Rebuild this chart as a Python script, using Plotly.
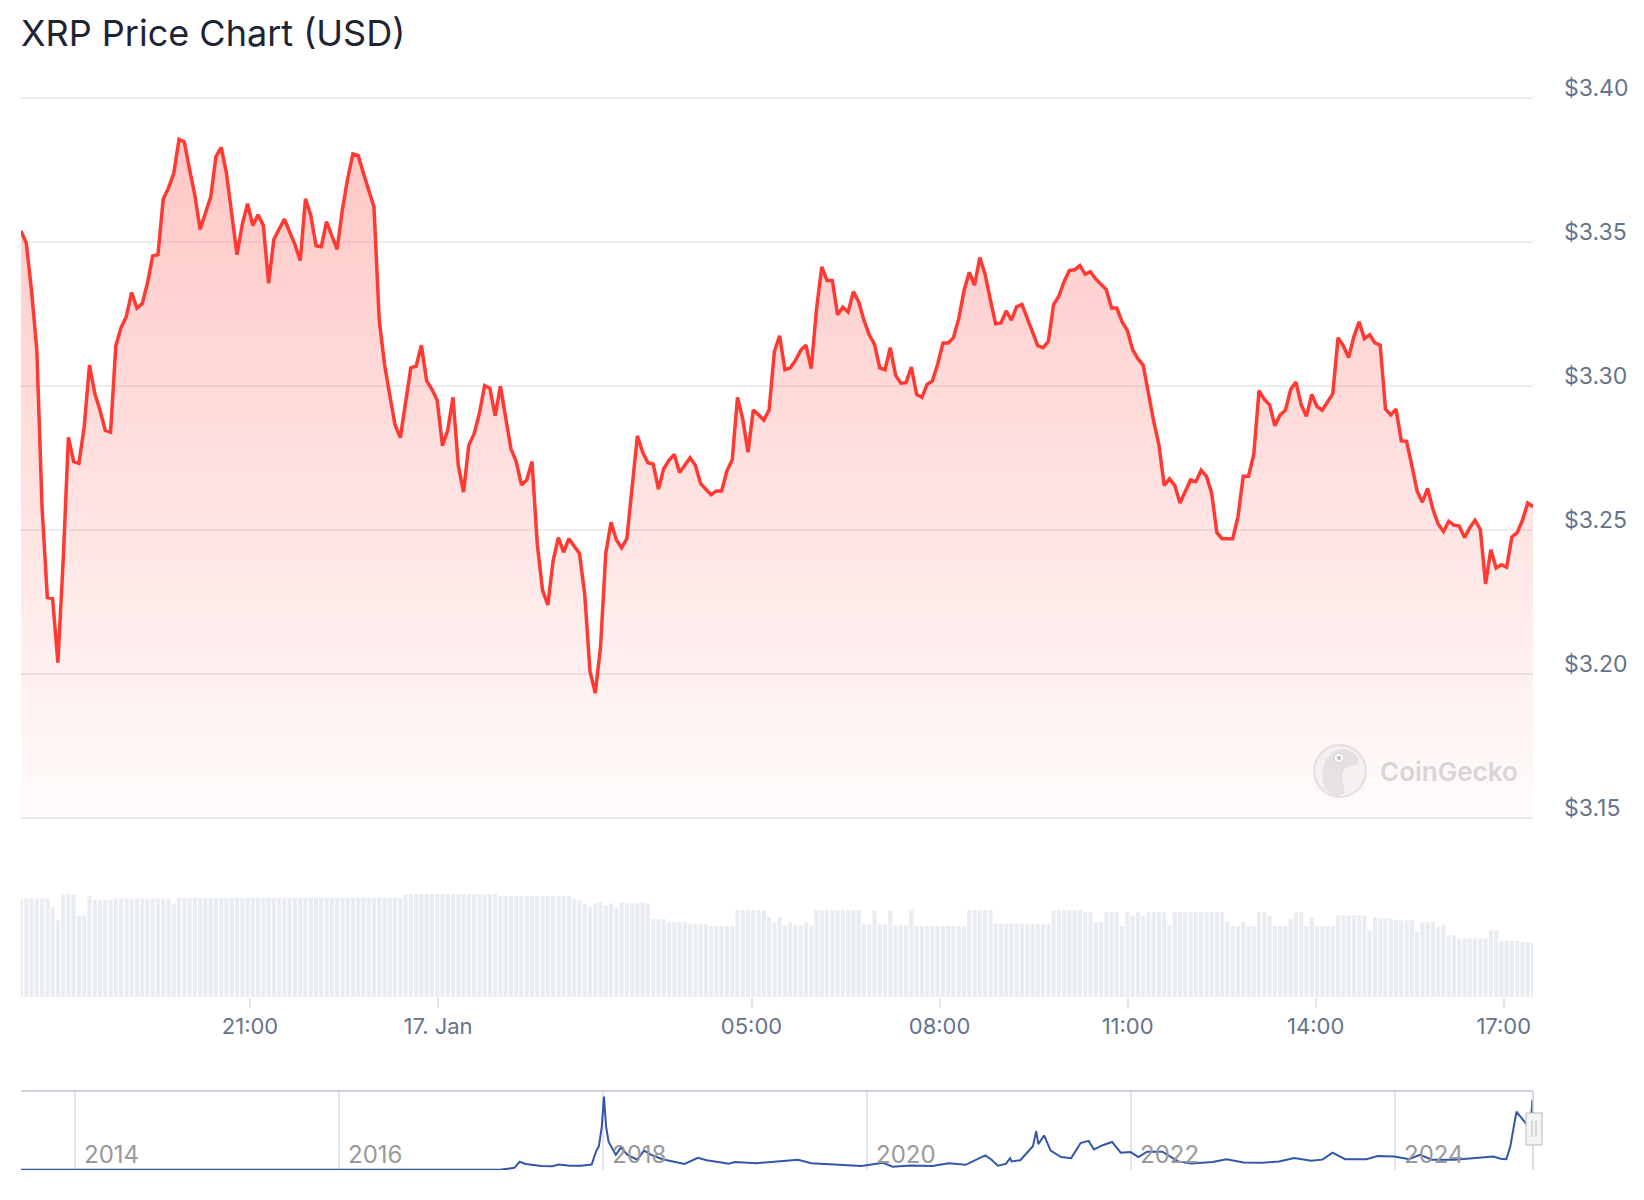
import pandas as pd
import plotly.graph_objects as go

# --- 24h price (USD), one value per step ---
price = [
    3.3537, 3.3495, 3.3329, 3.3125, 3.2576, 3.2264, 3.2260, 3.2038, 3.2390, 3.2820,
    3.2736, 3.2730, 3.2857, 3.3071, 3.2972, 3.2914, 3.2844, 3.2838, 3.3138, 3.3201,
    3.3240, 3.3323, 3.3269, 3.3284, 3.3355, 3.3450, 3.3454, 3.3648, 3.3686, 3.3737,
    3.3855, 3.3846, 3.3750, 3.3661, 3.3542, 3.3597, 3.3654, 3.3795, 3.3827, 3.3737,
    3.3597, 3.3454, 3.3559, 3.3631, 3.3556, 3.3593, 3.3556, 3.3355, 3.3508, 3.3540,
    3.3578, 3.3533, 3.3489, 3.3434, 3.3648, 3.3591, 3.3485, 3.3482, 3.3569, 3.3520,
    3.3473, 3.3610, 3.3718, 3.3804, 3.3799, 3.3737, 3.3680, 3.3620, 3.3227, 3.3074,
    3.2966, 3.2863, 3.2819, 3.2935, 3.3061, 3.3067, 3.3140, 3.3016, 3.2987, 3.2949,
    3.2791, 3.2844, 3.2959, 3.2723, 3.2630, 3.2793, 3.2832, 3.2902, 3.3000, 3.2991,
    3.2895, 3.2997, 3.2895, 3.2780, 3.2736, 3.2655, 3.2672, 3.2736, 3.2449, 3.2289,
    3.2238, 3.2391, 3.2472, 3.2421, 3.2468, 3.2442, 3.2417, 3.2276, 3.2008, 3.1932,
    3.2091, 3.2417, 3.2525, 3.2464, 3.2436, 3.2468, 3.2653, 3.2825, 3.2768, 3.2732,
    3.2727, 3.2640, 3.2711, 3.2740, 3.2761, 3.2698, 3.2723, 3.2749, 3.2723, 3.2659,
    3.2640, 3.2621, 3.2634, 3.2634, 3.2704, 3.2742, 3.2959, 3.2883, 3.2768, 3.2915,
    3.2898, 3.2880, 3.2915, 3.3118, 3.3173, 3.3055, 3.3061, 3.3087, 3.3122, 3.3140,
    3.3059, 3.3265, 3.3412, 3.3365, 3.3365, 3.3246, 3.3272, 3.3255, 3.3326, 3.3291,
    3.3227, 3.3176, 3.3144, 3.3061, 3.3055, 3.3131, 3.3036, 3.3008, 3.3010, 3.3064,
    3.2969, 3.2959, 3.3004, 3.3016, 3.3074, 3.3148, 3.3148, 3.3166, 3.3233, 3.3329,
    3.3393, 3.3348, 3.3444, 3.3386, 3.3297, 3.3214, 3.3217, 3.3259, 3.3227, 3.3274,
    3.3281, 3.3233, 3.3182, 3.3138, 3.3131, 3.3153, 3.3281, 3.3310, 3.3361, 3.3399,
    3.3402, 3.3416, 3.3386, 3.3395, 3.3370, 3.3352, 3.3333, 3.3269, 3.3269, 3.3221,
    3.3191, 3.3125, 3.3093, 3.3071, 3.2966, 3.2876, 3.2793, 3.2653, 3.2676, 3.2653,
    3.2592, 3.2634, 3.2672, 3.2666, 3.2706, 3.2685, 3.2627, 3.2489, 3.2468, 3.2468,
    3.2468, 3.2544, 3.2685, 3.2685, 3.2761, 3.2982, 3.2952, 3.2933, 3.2860, 3.2898,
    3.2914, 3.2986, 3.3012, 3.2933, 3.2893, 3.2969, 3.2927, 3.2914, 3.2946, 3.2972,
    3.3166, 3.3138, 3.3097, 3.3170, 3.3221, 3.3163, 3.3176, 3.3148, 3.3140, 3.2918,
    3.2898, 3.2918, 3.2808, 3.2806, 3.2723, 3.2634, 3.2595, 3.2643, 3.2570, 3.2519,
    3.2493, 3.2528, 3.2515, 3.2512, 3.2472, 3.2506, 3.2532, 3.2500, 3.2311, 3.2430,
    3.2366, 3.2378, 3.2369, 3.2474, 3.2489, 3.2532, 3.2592, 3.2579,
]

# 24h trading volume (billion USD), one bar per step
volume = (
    [15.8] * 6 + [14.4, 12.3] + [16.5] * 3 + [13.0] * 2 + [16.2, 15.6, 15.6] + [15.5] * 2
    + [15.8] * 11 + [15.0] + [15.9] * 43 + [16.5] * 18 + [16.2] * 14
    + [15.7, 15.5, 15.0, 14.4, 15.0, 15.2]
    + [14.7, 15.0, 14.4, 15.2, 15.0, 15.0, 15.0, 15.2, 15.0]
    + [12.5] * 3 + [12.0] * 4 + [11.7] * 4 + [11.4] * 5 + [13.9] * 6 + [12.8, 12.0, 12.8]
    + [11.5, 12.0, 11.5, 11.5, 12.0, 11.5] + [13.9] * 9
    + [11.7, 11.7, 13.9, 11.7, 11.7, 13.9, 11.5, 11.5, 11.5, 13.9] + [11.4] * 10
    + [13.9] * 5 + [11.8] * 6 + [11.7] * 5 + [13.9] * 6 + [13.6, 13.6] + [12.0, 12.0]
    + [13.6] * 3 + [11.4] + [13.6, 13.0, 13.6, 13.0] + [13.6] * 4 + [11.4] + [13.6] * 10
    + [12.0, 11.4, 11.4, 12.0, 11.4, 11.4, 13.6, 13.6, 13.0, 11.4, 11.4, 11.4, 12.5]
    + [13.6, 13.6, 11.4, 12.8] + [11.4] * 4 + [13.1] * 6 + [10.7, 12.8] + [12.6] * 3
    + [12.3] * 4 + [10.4] + [12.0] * 3 + [11.2, 11.6] + [9.9, 9.9] + [9.4] * 6
    + [10.7, 10.7] + [9.0] * 4 + [8.8] * 3
)

time = pd.date_range("2025-01-16 17:20:48", "2025-01-17 17:28:00", periods=len(price))

tick_times = ["2025-01-16 21:00", "2025-01-17 00:00", "2025-01-17 05:00", "2025-01-17 08:00",
              "2025-01-17 11:00", "2025-01-17 14:00", "2025-01-17 17:00"]
tick_text = ["21:00", "17. Jan", "05:00", "08:00", "11:00", "14:00", "17:00"]
price_ticks = [3.15, 3.20, 3.25, 3.30, 3.35, 3.40]
price_tick_text = ["$3.15", "$3.20", "$3.25", "$3.30", "$3.35", "$3.40"]

# --- all-time history for the navigator ---
hist_dates = [
    "2013-08-05", "2013-10-15", "2013-12-20", "2014-01-10", "2014-03-01", "2014-06-01",
    "2014-10-01", "2014-12-20", "2015-03-01", "2015-06-01", "2015-12-01", "2016-06-01",
    "2016-12-01", "2017-03-01", "2017-03-25", "2017-04-01", "2017-04-15", "2017-05-01",
    "2017-05-16", "2017-06-01", "2017-07-15", "2017-08-15", "2017-09-01", "2017-10-01",
    "2017-11-01", "2017-12-01", "2017-12-13", "2017-12-21", "2017-12-29", "2018-01-04",
    "2018-01-10", "2018-01-17", "2018-02-06", "2018-02-20", "2018-03-10", "2018-04-06",
    "2018-04-25", "2018-05-15", "2018-06-15", "2018-08-15", "2018-09-21", "2018-10-15",
    "2018-11-25", "2018-12-15", "2019-01-01", "2019-03-01", "2019-05-15", "2019-06-25",
    "2019-08-01", "2019-10-01", "2019-12-18", "2020-02-15", "2020-03-13", "2020-05-01",
    "2020-07-01", "2020-08-15", "2020-10-01", "2020-11-24", "2020-12-10", "2020-12-29",
    "2021-01-20", "2021-02-01", "2021-02-05", "2021-03-01", "2021-04-05", "2021-04-14",
    "2021-04-20", "2021-05-06", "2021-05-24", "2021-06-22", "2021-07-20", "2021-08-15",
    "2021-09-06", "2021-09-21", "2021-10-15", "2021-11-10", "2021-12-04", "2021-12-31",
    "2022-01-22", "2022-02-15", "2022-03-29", "2022-05-12", "2022-06-18", "2022-08-15",
    "2022-09-23", "2022-11-09", "2022-12-31", "2023-02-15", "2023-03-29", "2023-05-15",
    "2023-06-15", "2023-07-13", "2023-08-17", "2023-10-15", "2023-11-15", "2023-12-31",
    "2024-02-10", "2024-03-11", "2024-04-13", "2024-06-15", "2024-08-15", "2024-09-30",
    "2024-10-20", "2024-11-05", "2024-11-16", "2024-12-03", "2024-12-15", "2025-01-01",
    "2025-01-07", "2025-01-13", "2025-01-16", "2025-01-17",
]
hist_price = [
    0.006, 0.005, 0.03, 0.025, 0.015, 0.006, 0.005, 0.02, 0.01, 0.008, 0.006, 0.006,
    0.007, 0.007, 0.01, 0.03, 0.05, 0.1, 0.38, 0.28, 0.18, 0.17, 0.25, 0.2,
    0.2, 0.25, 0.85, 1.1, 2.0, 3.4, 2.0, 1.3, 0.7, 1.05, 0.7, 0.48,
    0.9, 0.7, 0.5, 0.28, 0.56, 0.45, 0.35, 0.29, 0.37, 0.31, 0.42, 0.47,
    0.31, 0.25, 0.18, 0.33, 0.15, 0.21, 0.18, 0.31, 0.24, 0.68, 0.5, 0.2,
    0.28, 0.55, 0.4, 0.45, 1.1, 1.8, 1.2, 1.6, 0.9, 0.6, 0.55, 1.25,
    1.35, 0.95, 1.15, 1.3, 0.8, 0.83, 0.6, 0.85, 0.85, 0.4, 0.3, 0.37,
    0.5, 0.35, 0.34, 0.39, 0.55, 0.43, 0.48, 0.8, 0.5, 0.5, 0.65, 0.62,
    0.5, 0.7, 0.48, 0.48, 0.57, 0.62, 0.52, 0.5, 1.1, 2.7, 2.45, 2.1,
    2.35, 2.5, 3.2, 3.25,
]
nav_years = ["2014", "2016", "2018", "2020", "2022", "2024"]

W, H = 1644, 1200
X0, X1 = 21 / W, 1533 / W


def py(px):
    return 1 - px / H


def pth(points):
    # pixel points -> closed svg path in paper units
    return "M " + " L ".join(f"{x / W:.5f},{py(y):.5f}" for x, y in points) + " Z"


fig = go.Figure()

fig.add_trace(go.Bar(x=time, y=volume, xaxis="x2", yaxis="y2",
                     marker=dict(color="#e9edf1", line_width=0), hoverinfo="skip"))

fig.add_trace(go.Scatter(
    x=time, y=price, mode="lines",
    line=dict(color="#ff3a33", width=3.5),
    fill="tozeroy",
    fillgradient=dict(type="vertical", start=3.15, stop=3.40,
                      colorscale=[[0, "rgba(255,58,51,0.02)"], [1, "rgba(255,58,51,0.30)"]]),
))

fig.add_trace(go.Scatter(x=hist_dates, y=hist_price, mode="lines", xaxis="x3", yaxis="y3",
                         line=dict(color="#3356a8", width=2)))

axis_font = dict(family="Inter", size=22, color="#64748b")
upp = 0.25 / 720  # price per pixel

fig.update_layout(
    width=W, height=H,
    margin=dict(l=0, r=0, t=0, b=0, autoexpand=False),
    paper_bgcolor="white", plot_bgcolor="white",
    showlegend=False,
    bargap=0.22,
    font=dict(family="Inter"),
    xaxis=dict(domain=[X0, X1], range=[time[0], time[-1]], showticklabels=False,
               showgrid=False, zeroline=False, anchor="y", automargin=False),
    yaxis=dict(domain=[py(820), py(95)], range=[3.15 - 2.5 * upp, 3.40 + 2.5 * upp],
               side="right", tickvals=price_ticks, ticktext=price_tick_text,
               gridcolor="#ebedf0", gridwidth=1.5, zeroline=False, automargin=False,
               tickfont=dict(family="Inter", size=23, color="#64748b"),
               ticklabelstandoff=30, ticklabelshift=-10),
    xaxis2=dict(domain=[X0, X1], range=[time[0], time[-1]], anchor="y2", automargin=False,
                tickvals=tick_times, ticktext=tick_text, ticks="outside", ticklen=10,
                tickcolor="#e3e6ea", tickwidth=1.5, showgrid=False, zeroline=False,
                tickfont=axis_font),
    yaxis2=dict(domain=[py(997), py(891)], range=[0, 17], visible=False),
    xaxis3=dict(domain=[X0, X1], range=["2013-08-05", "2025-01-17 17:30"], anchor="y3",
                type="date", tick0="2014-01-01", dtick="M24", showticklabels=False,
                showgrid=True, gridcolor="#e1e4e9", gridwidth=1.5, zeroline=False,
                ticks="", automargin=False),
    yaxis3=dict(domain=[py(1170), py(1091)], range=[0, 3.66], visible=False),
)

# navigator year labels
for yr in nav_years:
    fig.add_annotation(text=yr, xref="x3", yref="y3 domain", x=f"{yr}-01-01", y=0.2,
                       xanchor="left", yanchor="middle", xshift=7, showarrow=False,
                       font=dict(family="Inter", size=24, color="#9a9a9a"))

# title
fig.add_annotation(text="XRP Price Chart (USD)", xref="paper", yref="paper",
                   x=19 / W, y=py(33), xanchor="left", yanchor="middle", showarrow=False,
                   font=dict(family="Inter", size=36, color="#1e2434"))

# watermark: round badge with a gecko head, then the name
fig.add_shape(type="circle", xref="paper", yref="paper",
              x0=1314 / W, x1=1366 / W, y0=py(797), y1=py(745),
              fillcolor="rgba(215,215,215,0.22)", line=dict(color="rgba(205,205,205,0.55)", width=2))
fig.add_shape(type="path", xref="paper", yref="paper", line_width=0,
              fillcolor="rgba(200,200,200,0.35)",
              path=pth([(1324, 788), (1322, 772), (1326, 759), (1334, 751), (1344, 749),
                        (1353, 752), (1359, 758), (1358, 764), (1350, 767), (1344, 769),
                        (1342, 778), (1345, 793), (1338, 796), (1330, 794)]))
fig.add_shape(type="circle", xref="paper", yref="paper", line=dict(color="rgba(190,190,190,0.6)", width=1),
              fillcolor="rgba(255,255,255,0.8)",
              x0=1334 / W, x1=1344 / W, y0=py(763), y1=py(753))
fig.add_shape(type="circle", xref="paper", yref="paper", line_width=0,
              fillcolor="rgba(180,180,180,0.8)",
              x0=1337 / W, x1=1341 / W, y0=py(760), y1=py(756))
fig.add_annotation(text="CoinGecko", xref="paper", yref="paper", x=1378 / W, y=py(771),
                   xanchor="left", yanchor="middle", showarrow=False,
                   font=dict(family="Inter", size=26, color="#d6d6d6", weight=600))

# navigator frame and handle
fig.add_shape(type="line", xref="x3 domain", yref="y3 domain", x0=0, x1=1, y0=1, y1=1,
              line=dict(color="#ccd1da", width=2))
fig.add_shape(type="line", xref="x3 domain", yref="y3 domain", x0=1, x1=1, y0=0, y1=1,
              line=dict(color="#ccd1da", width=1.5))
fig.add_shape(type="rect", xref="paper", yref="paper", x0=1526 / W, x1=1542 / W,
              y0=py(1145), y1=py(1113), fillcolor="#f4f4f4", line=dict(color="#bbbbbb", width=1))
for hx in (1532, 1536):
    fig.add_shape(type="line", xref="paper", yref="paper", x0=hx / W, x1=hx / W,
                  y0=py(1137), y1=py(1121), line=dict(color="#bbbbbb", width=1))

fig.write_html("out.html", config={"displayModeBar": False},
               post_script="document.body.style.margin='0';document.body.style.overflow='hidden';")
